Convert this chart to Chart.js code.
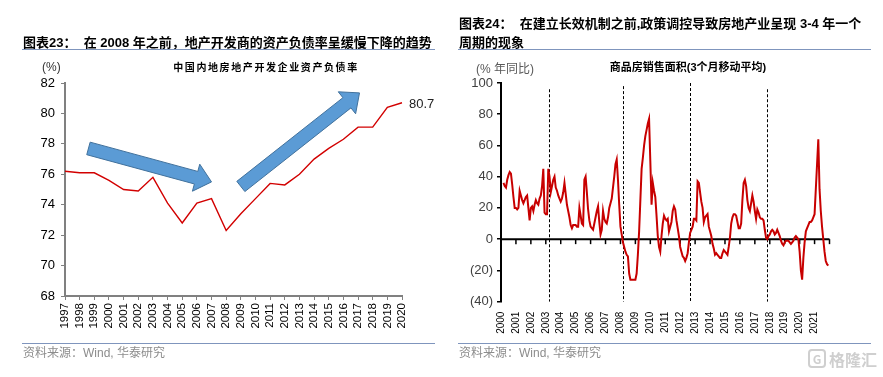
<!DOCTYPE html>
<html>
<head>
<meta charset="utf-8">
<script src="https://cdn.jsdelivr.net/npm/chart.js@4.4.1/dist/chart.umd.min.js"></script>
<style>
  body { margin: 0; background: #fff; }
  #page { position: relative; width: 883px; height: 377px; overflow: hidden;
          font-family: 'Liberation Sans', 'Noto Sans CJK SC', sans-serif; }
  canvas { position: absolute; top: 0; }
  .txt { position: absolute; white-space: nowrap; }
  .title { font-size: 13px; font-weight: bold; color: #000; line-height: 19px; }
  .rule { position: absolute; height: 1px; background: #7f95bd; }
  .src { font-size: 12px; color: #8c8c8c; line-height: 14px; }
</style>
</head>
<body>
<div id="page">
  <canvas id="debtChart" width="441" height="377" style="left:0"></canvas>
  <canvas id="salesChart" width="442" height="377" style="left:441px"></canvas>

  <div class="txt title" style="left:23px;top:33px">图表23：&nbsp; 在 2008 年之前，地产开发商的资产负债率呈缓慢下降的趋势</div>
  <div class="txt title" style="left:459px;top:14px">图表24：&nbsp; 在建立长效机制之前,政策调控导致房地产业呈现 3-4 年一个<br>周期的现象</div>
  <div class="rule" style="left:22px;top:49px;width:413px"></div>
  <div class="rule" style="left:458px;top:49px;width:413px"></div>

  <div class="txt" style="left:42px;top:60px;font-size:12px;color:#333">(%)</div>
  <div class="txt" style="left:266px;top:59px;transform:translateX(-50%);font-size:10px;letter-spacing:1.6px;color:#000;font-weight:bold">中国内地房地产开发企业资产负债率</div>
  <div class="txt" style="left:476px;top:59px;font-size:12px;color:#595959">(% 年同比)</div>
  <div class="txt" style="left:688px;top:58px;transform:translateX(-50%);font-size:11px;color:#000;font-weight:bold">商品房销售面积(3个月移动平均)</div>

  <div class="rule" style="left:22px;top:343px;width:413px"></div>
  <div class="rule" style="left:458px;top:343px;width:413px"></div>
  <div class="txt src" style="left:23px;top:346px">资料来源：Wind, 华泰研究</div>
  <div class="txt src" style="left:459px;top:346px">资料来源：Wind, 华泰研究</div>
  <div class="txt" style="left:808px;top:347px;font-size:16px;font-weight:bold;color:#cfcfcf;font-family:'Noto Sans CJK SC'"><span style="display:inline-block;border:2px solid #cfcfcf;border-radius:4px;width:14px;height:15px;line-height:15px;text-align:center;font-size:12px;margin-right:3px;vertical-align:2px">G</span>格隆汇</div>
</div>

<script>
Chart.defaults.font.family = "'Liberation Sans', 'Noto Sans CJK SC', sans-serif";

// left chart: 中国内地房地产开发企业资产负债率 (%)
const years = ['1997', '1998', '1999', '2000', '2001', '2002', '2003', '2004', '2005', '2006', '2007', '2008',
  '2009', '2010', '2011', '2012', '2013', '2014', '2015', '2016', '2017', '2018', '2019', '2020'];
const debtRatio = [76.2, 76.1, 76.1, 75.6, 75.0, 74.9, 75.8, 74.1, 72.8, 74.1, 74.4, 72.3,
  73.4, 74.4, 75.4, 75.3, 76.0, 77.0, 77.7, 78.3, 79.1, 79.1, 80.4, 80.7];

// right chart: 商品房销售面积 3个月移动平均, 年同比 %, monthly from 2000-03
const salesStartYear = 2000;
const salesStartMonth = 3;
const salesYoY = [
  36, 34, 33, 38, 41, 43, 42, 35, 27, 20,
  20, 19, 20, 31, 28, 25, 23, 25, 27, 28, 20, 12,
  20, 21, 18, 22, 25, 23, 22, 26, 28, 34, 45, 17,
  16, 16, 45, 40, 30, 34, 38, 40, 33, 31, 28, 26,
  24, 26, 30, 36, 29, 22, 18, 14, 9, 7, 9, 9,
  9, 8, 8, 20, 15, 10, 9, 38, 40, 30, 19, 12,
  8, 7, 6, 10, 14, 18, 21, 11, 3, 6, 18, 13,
  11, 10, 14, 20, 23, 26, 33, 40, 48, 51, 38, 22,
  8, 3, -2, -5, -8, -10, -11, -22, -26, -26, -26, -26,
  -26, -22, -10, 5, 25, 45, 52, 60, 66, 70, 74, 77,
  50, 22, 36, 31, 27, 15, 2, -5, -8, 2, 10, 15,
  13, 12, 13, 5, 8, 11, 18, 21, 19, 12, 7, 2,
  -5, -8, -11, -12, -14, -12, -9, -2, 4, 6, 8, 13,
  13, 12, 37, 36, 30, 24, 20, 11, 14, 15, 16, 8,
  5, 2, -3, -6, -10, -9, -10, -11, -12, -12, -9, -7,
  -8, -9, -10, -5, 1, 10, 14, 16, 16, 15, 11, 7,
  7, 10, 25, 36, 38, 34, 25, 20, 18, 23, 28, 24,
  18, 13, 19, 17, 14, 13, 13, 12, 6, 1, 0, 2,
  3, 5, 6, 5, 3, 4, 6, 4, 2, -1, -3, -4,
  -2, -1, -1, -1, -2, -3, -2, -1, 1, 2, 1, 0,
  -8, -20, -26, -12, -2, 5, 7, 9, 11, 11, 12, 14,
  16, 32, 48, 64, 32, 18, 8, 0, -8, -14, -16, -17
];
const salesYears = [2000, 2001, 2002, 2003, 2004, 2005, 2006, 2007, 2008, 2009, 2010,
  2011, 2012, 2013, 2014, 2015, 2016, 2017, 2018, 2019, 2020, 2021];

// policy cycle markers (year position, top of dashed line in %)
const cycleBreaks = [2003.2, 2008.15, 2012.66, 2017.84];
const cycleTops = [96, 98, 100, 96];

// trend arrows on left chart, in (category index, %) units
const trendArrows = [
  { from: [1.6, 77.7], to: [10.0, 75.5] },
  { from: [12.0, 75.2], to: [20.1, 81.35] }
];

function blockArrow(ctx, x0, y0, x1, y1) {
  const len = Math.hypot(x1 - x0, y1 - y0);
  const ux = (x1 - x0) / len, uy = (y1 - y0) / len;
  const nx = -uy, ny = ux;
  const w = 6.5, h = 14, hl = 16;
  const bx = x1 - ux * hl, by = y1 - uy * hl;
  ctx.beginPath();
  ctx.moveTo(x0 + nx * w, y0 + ny * w);
  ctx.lineTo(bx + nx * w, by + ny * w);
  ctx.lineTo(bx + nx * h, by + ny * h);
  ctx.lineTo(x1, y1);
  ctx.lineTo(bx - nx * h, by - ny * h);
  ctx.lineTo(bx - nx * w, by - ny * w);
  ctx.lineTo(x0 - nx * w, y0 - ny * w);
  ctx.closePath();
  ctx.fillStyle = '#5b9bd5';
  ctx.fill();
  ctx.strokeStyle = '#41719c';
  ctx.lineWidth = 1;
  ctx.stroke();
}

const debtDecor = {
  id: 'debtDecor',
  afterDatasetsDraw(chart) {
    const { ctx, scales: { x, y } } = chart;
    ctx.save();
    trendArrows.forEach(a => {
      blockArrow(ctx, x.getPixelForValue(a.from[0]), y.getPixelForValue(a.from[1]),
        x.getPixelForValue(a.to[0]), y.getPixelForValue(a.to[1]));
    });
    const pts = chart.getDatasetMeta(0).data;
    const last = pts[pts.length - 1];
    ctx.fillStyle = '#222';
    ctx.font = "13px 'Liberation Sans'";
    ctx.textBaseline = 'middle';
    ctx.fillText(debtRatio[debtRatio.length - 1].toFixed(1), last.x + 7, last.y + 2);
    ctx.restore();
  }
};

const salesDecor = {
  id: 'salesDecor',
  beforeDatasetsDraw(chart) {
    const { ctx, chartArea, scales: { x, y } } = chart;
    ctx.save();
    ctx.strokeStyle = '#000';
    ctx.lineWidth = 1;
    ctx.setLineDash([3, 2]);
    cycleBreaks.forEach((c, i) => {
      const px = Math.round(x.getPixelForValue(c)) + 0.5;
      ctx.beginPath();
      ctx.moveTo(px, y.getPixelForValue(cycleTops[i]));
      ctx.lineTo(px, chartArea.bottom);
      ctx.stroke();
    });
    ctx.setLineDash([]);
    const y0 = y.getPixelForValue(0);
    ctx.lineWidth = 2;
    ctx.beginPath();
    ctx.moveTo(chartArea.left, y0);
    ctx.lineTo(chartArea.right, y0);
    ctx.stroke();
    ctx.lineWidth = 1.5;
    salesYears.concat([2022]).slice(1).forEach(v => {
      const px = x.getPixelForValue(v);
      ctx.beginPath();
      ctx.moveTo(px, y0);
      ctx.lineTo(px, y0 + 5);
      ctx.stroke();
    });
    ctx.restore();
  }
};

new Chart(document.getElementById('debtChart'), {
  type: 'line',
  data: {
    labels: years,
    datasets: [{
      data: debtRatio,
      borderColor: '#d20000',
      borderWidth: 1.4,
      pointRadius: 0,
      tension: 0
    }]
  },
  options: {
    responsive: false,
    animation: false,
    devicePixelRatio: 1,
    layout: { padding: { left: 0, top: 83, right: 39, bottom: 41 } },
    plugins: { legend: { display: false }, tooltip: { enabled: false } },
    scales: {
      x: {
        grid: { drawOnChartArea: false, tickLength: 4, color: '#808080' },
        border: { color: '#808080', width: 2 },
        ticks: { autoSkip: false, minRotation: 90, maxRotation: 90, padding: 3, color: '#000', font: { size: 11.5 } },
        afterFit: s => { s.height = 40; }
      },
      y: {
        min: 68,
        max: 82,
        ticks: { stepSize: 2, padding: 6, color: '#000', font: { size: 13 } },
        grid: { drawOnChartArea: false, tickLength: 4, color: '#808080' },
        border: { color: '#808080', width: 2 },
        afterFit: s => { s.width = 65; }
      }
    }
  },
  plugins: [debtDecor]
});

new Chart(document.getElementById('salesChart'), {
  type: 'line',
  data: {
    datasets: [{
      data: salesYoY.map((v, i) => ({ x: salesStartYear + (salesStartMonth - 1 + i) / 12, y: v })),
      borderColor: '#c80000',
      borderWidth: 2,
      pointRadius: 0,
      tension: 0
    }]
  },
  options: {
    responsive: false,
    animation: false,
    devicePixelRatio: 1,
    layout: { padding: { left: 0, top: 83, right: 53.5, bottom: 35.4 } },
    plugins: { legend: { display: false }, tooltip: { enabled: false } },
    scales: {
      x: {
        type: 'linear',
        min: 2000,
        max: 2022,
        grid: { display: false, drawTicks: false },
        border: { display: false },
        afterBuildTicks: s => { s.ticks = salesYears.map(v => ({ value: v })); },
        ticks: { autoSkip: false, minRotation: 90, maxRotation: 90, padding: 10, color: '#000',
          font: { size: 10 }, callback: v => String(v) },
        afterFit: s => { s.height = 40; }
      },
      y: {
        min: -40,
        max: 100,
        ticks: { stepSize: 20, padding: 4, color: '#404040', font: { size: 13 },
          callback: v => v < 0 ? '(' + (-v) + ')' : v },
        grid: { drawOnChartArea: false, tickLength: 4, color: '#000', lineWidth: 1.5 },
        border: { color: '#000', width: 2 },
        afterFit: s => { s.width = 60; }
      }
    }
  },
  plugins: [salesDecor]
});
</script>
</body>
</html>
